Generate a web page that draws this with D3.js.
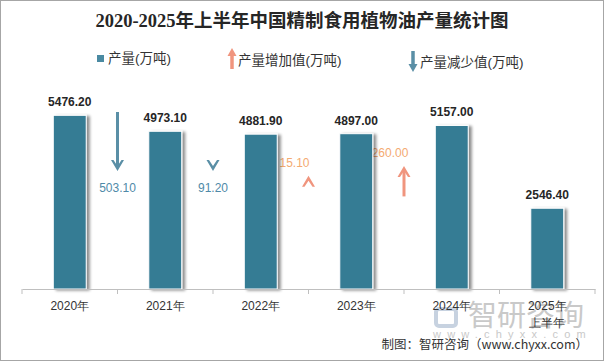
<!DOCTYPE html>
<html>
<head>
<meta charset="utf-8">
<script src="https://cdnjs.cloudflare.com/ajax/libs/d3/7.8.5/d3.min.js"></script>
<style>
  body { margin: 0; background: #fff; }
  svg { display: block; font-family: "Liberation Sans", "Noto Sans CJK SC", sans-serif; }
</style>
</head>
<body>
<div id="chart"></div>
<script>
var years = ["2020年", "2021年", "2022年", "2023年", "2024年", "2025年\n上半年"];
var output = [5476.2, 4973.1, 4881.9, 4897.0, 5157.0, 2546.4];
// change between year i and year i+1
var changes = [503.1, 91.2, 15.1, 260.0];
var changeDir = ["down", "down", "up", "up"];

var width = 604, height = 361;
var margin = { top: 67, right: 9, bottom: 72, left: 22 };

var svg = d3.select("#chart")
    .append("svg")
    .attr("width", width)
    .attr("height", height);

// frame
svg.append("rect")
    .attr("x", 0.5).attr("y", 0.5)
    .attr("width", width - 1).attr("height", height - 1)
    .attr("fill", "#fff")
    .attr("stroke", "#a6a6a6");

var defs = svg.append("defs");
var shadow = defs.append("filter").attr("id", "shadow")
    .attr("x", "-20%").attr("y", "-10%").attr("width", "150%").attr("height", "120%");
shadow.append("feGaussianBlur").attr("in", "SourceAlpha").attr("stdDeviation", 1.5);
shadow.append("feOffset").attr("dx", 3).attr("dy", 1).attr("result", "off");
shadow.append("feComponentTransfer").append("feFuncA").attr("type", "linear").attr("slope", 0.45);
var merge = shadow.append("feMerge");
merge.append("feMergeNode");
merge.append("feMergeNode").attr("in", "SourceGraphic");

var x = d3.scaleBand()
    .domain(years)
    .range([margin.left, width - margin.right])
    .paddingInner(0.655)
    .paddingOuter(0.3275);

var y = d3.scaleLinear()
    .domain([0, 7000])
    .range([height - margin.bottom, margin.top]);

var arrowLen = d3.scaleLinear().domain([0, 503.1]).range([0, 59]);

// title
svg.append("text")
    .attr("x", width / 2)
    .attr("y", 27)
    .attr("text-anchor", "middle")
    .style("font-family", "'Liberation Serif', 'Noto Sans CJK SC', serif")
    .style("font-weight", "bold")
    .style("font-size", "18.5px")
    .style("fill", "#262626")
    .text("2020-2025年上半年中国精制食用植物油产量统计图");

// legend
var legend = svg.append("g").style("font-size", "13.5px").style("fill", "#333");
legend.append("rect").attr("x", 97).attr("y", 55).attr("width", 7).attr("height", 7).attr("fill", "#4a8aa2");
legend.append("text").attr("x", 108).attr("y", 63).text("产量(万吨)");
legend.append("path").attr("d", "M232,69 L232,54").attr("stroke", "#f0957e").attr("stroke-width", 3.5);
legend.append("path").attr("d", "M227.5,56 L232,48 L236.5,56 Z").attr("fill", "#f0957e");
legend.append("text").attr("x", 238).attr("y", 65).text("产量增加值(万吨)");
legend.append("path").attr("d", "M413,51 L413,66").attr("stroke", "#5a8fa6").attr("stroke-width", 3.5);
legend.append("path").attr("d", "M408.5,64 L413,72 L417.5,64 Z").attr("fill", "#5a8fa6");
legend.append("text").attr("x", 420).attr("y", 67).text("产量减少值(万吨)");

// watermark
var wm = svg.append("g").style("fill", "#c9c9c9");
wm.append("rect").attr("x", 436).attr("y", 309).attr("width", 20).attr("height", 17).attr("rx", 3)
    .attr("fill", "none").attr("stroke", "#c7d2e0").attr("stroke-width", 4);
wm.append("text").attr("x", 468).attr("y", 326)
    .style("font-size", "29px").style("font-family", "'Noto Sans CJK SC', sans-serif")
    .text("智研咨询");
wm.append("text").attr("x", 433).attr("y", 338)
    .style("font-size", "11px").style("letter-spacing", "6.2px")
    .text("www.chyxx.com");

// increase/decrease arrows between bars
var arrows = svg.append("g");
changes.forEach(function (v, i) {
    var cx = x(years[i]) + x.bandwidth() + x.step() * x.paddingInner() / 2;
    var len = Math.max(arrowLen(v), 11);
    var g = arrows.append("g");
    if (changeDir[i] == "down") {
        var tip = y(3720);
        var col = "#5a8fa6";
        if (len > 12) {
            g.append("line").attr("x1", cx).attr("x2", cx)
                .attr("y1", tip - len).attr("y2", tip - 4)
                .attr("stroke", col).attr("stroke-width", 3);
        }
        g.append("path")
            .attr("d", "M" + (cx - 6.5) + "," + (tip - 11) + " L" + (cx - 4) + "," + (tip - 11) +
                " L" + cx + "," + (tip - 5) + " L" + (cx + 4) + "," + (tip - 11) +
                " L" + (cx + 6.5) + "," + (tip - 11) + " L" + cx + "," + tip + " Z")
            .attr("fill", col);
        g.append("text").attr("x", cx).attr("y", tip + 21)
            .attr("text-anchor", "middle")
            .style("font-size", "12px").style("fill", "#4f8aa8")
            .text(v.toFixed(2));
    } else {
        var mid = y(3400);
        var top = mid - len / 2, bot = mid + len / 2;
        var col2 = "#f0957e";
        if (len > 12) {
            g.append("line").attr("x1", cx).attr("x2", cx)
                .attr("y1", top + 4).attr("y2", bot)
                .attr("stroke", col2).attr("stroke-width", 3);
        }
        g.append("path")
            .attr("d", "M" + (cx - 6.5) + "," + (top + 11) + " L" + (cx - 4) + "," + (top + 11) +
                " L" + cx + "," + (top + 5) + " L" + (cx + 4) + "," + (top + 11) +
                " L" + (cx + 6.5) + "," + (top + 11) + " L" + cx + "," + top + " Z")
            .attr("fill", col2);
        g.append("text").attr("x", cx - 14).attr("y", top - 9)
            .attr("text-anchor", "middle")
            .style("font-size", "12px").style("fill", "#f4aa72")
            .text(v.toFixed(2));
    }
});

// bars
svg.selectAll("rect.bar")
    .data(output)
    .enter()
    .append("rect")
    .attr("class", "bar")
    .attr("x", function (d, i) { return x(years[i]); })
    .attr("y", function (d) { return y(d); })
    .attr("width", x.bandwidth())
    .attr("height", function (d) { return y(0) - y(d); })
    .attr("fill", "#367b94")
    .attr("stroke", "#fff")
    .attr("stroke-width", 1)
    .attr("filter", "url(#shadow)");

svg.selectAll("text.val")
    .data(output)
    .enter()
    .append("text")
    .attr("class", "val")
    .attr("x", function (d, i) { return x(years[i]) + x.bandwidth() / 2; })
    .attr("y", function (d) { return y(d) - 9; })
    .attr("text-anchor", "middle")
    .style("font-size", "12px")
    .style("font-weight", "bold")
    .style("fill", "#262626")
    .text(function (d) { return d.toFixed(2); });

// x axis
var axis = svg.append("g")
    .attr("transform", "translate(0," + y(0) + ")")
    .call(d3.axisBottom(x).tickSize(0).tickFormat(""));
axis.select(".domain").attr("stroke", "#bfbfbf");
var bounds = d3.range(years.length + 1).map(function (i) { return margin.left + i * x.step(); });
axis.selectAll("line.tk")
    .data(bounds)
    .enter()
    .append("line")
    .attr("class", "tk")
    .attr("x1", function (d) { return d; }).attr("x2", function (d) { return d; })
    .attr("y1", 0).attr("y2", 5)
    .attr("stroke", "#bfbfbf");

axis.selectAll("text.cat")
    .data(years)
    .enter()
    .append("text")
    .attr("class", "cat")
    .attr("text-anchor", "middle")
    .style("font-size", "12px")
    .style("fill", "#333")
    .each(function (d) {
        var t = d3.select(this);
        d.split("\n").forEach(function (line, k) {
            t.append("tspan")
                .attr("x", x(d) + x.bandwidth() / 2)
                .attr("y", 21 + k * 17)
                .text(line);
        });
    });

// source
svg.append("text")
    .attr("x", 588)
    .attr("y", 349)
    .attr("text-anchor", "end")
    .style("font-size", "12.5px")
    .style("fill", "#333")
    .style("font-family", "'Noto Sans CJK SC', sans-serif")
    .text("制图：智研咨询（www.chyxx.com）");
</script>
</body>
</html>
